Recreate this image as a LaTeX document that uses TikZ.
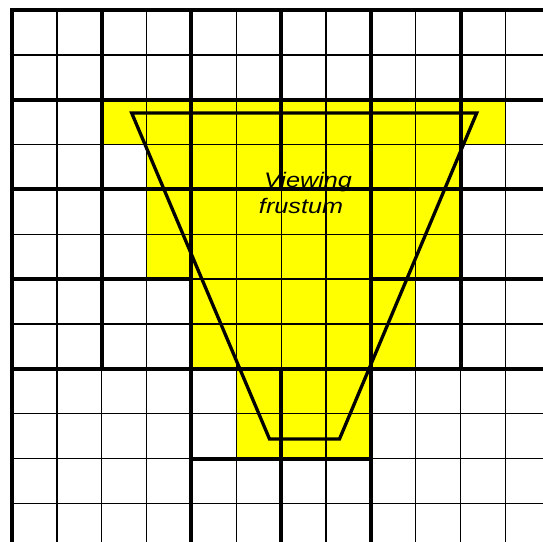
\documentclass[tikz,border=0pt]{standalone}
\usepackage{fontspec}
\setmainfont{Liberation Sans}
\definecolor{pureyellow}{RGB}{255,255,0}
\begin{document}
\begin{tikzpicture}[x=1pt,y=-1pt,
  finegrid/.style={line width=1.3pt, black},
  blockline/.style={line width=4pt, black, line cap=rect},
  frustumline/.style={line width=3.3pt, black, line join=miter},
  cellfill/.style={fill=pureyellow},
  captiontext/.style={font=\itshape\fontsize{21}{26}\selectfont, inner sep=0pt, anchor=base, xscale=1.2}]
\useasboundingbox (0,0) rectangle (543,541);
\clip (0,0) rectangle (543,541);
\begin{scope}[shift={(12pt,-10pt)}, x=44.87pt, y=-44.85pt]
  % yellow cells
  \fill[cellfill] (2,2) rectangle (11,3);
  \fill[cellfill] (3,3) rectangle (10,6);
  \fill[cellfill] (4,6) rectangle (9,8);
  \fill[cellfill] (5,8) rectangle (8,10);
  % fine grid
  \foreach \i in {0,...,12} {
    \draw[finegrid] (\i,0) -- (\i,12);
    \draw[finegrid] (0,\i) -- (12,\i);
  }
  % block outlines (vertical)
  \draw[blockline] (0,0) -- (0,12);
  \draw[blockline] (2,0) -- (2,8);
  \draw[blockline] (4,0) -- (4,12);
  \draw[blockline] (6,0) -- (6,4);
  \draw[blockline] (6,8) -- (6,12);
  \draw[blockline] (8,0) -- (8,12);
  \draw[blockline] (10,0) -- (10,8);
  \draw[blockline] (12,0) -- (12,12);
  % block outlines (horizontal)
  \draw[blockline] (0,0) -- (12,0);
  \draw[blockline] (0,2) -- (12,2);
  \draw[blockline] (0,4) -- (12,4);
  \draw[blockline] (0,6) -- (4,6);
  \draw[blockline] (8,6) -- (12,6);
  \draw[blockline] (0,8) -- (12,8);
  \draw[blockline] (4,10) -- (8,10);
  \draw[blockline] (0,12) -- (12,12);
\end{scope}
% viewing frustum
\draw[frustumline] (131.7,113) -- (476.7,113) -- (339.5,439) -- (269.5,439) -- cycle;
\node[captiontext] (viewing) at (308,187) {Viewing};
\node[captiontext] (frustumtext) at (301,213) {frustum};
\end{tikzpicture}
\end{document}
